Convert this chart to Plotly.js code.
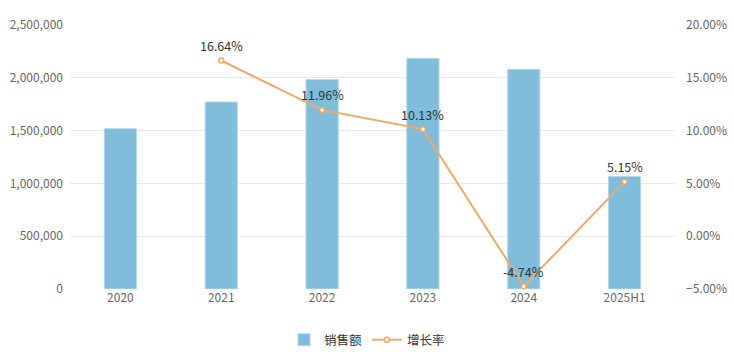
<!DOCTYPE html>
<html><head><meta charset="utf-8">
<script src="https://cdn.plot.ly/plotly-3.0.1.min.js"></script>
<style>html,body{margin:0;padding:0;background:#fff;}#chart{width:734px;height:358px;}</style>
</head><body><div id="chart"></div>
<script>
const categories = ['2020','2021','2022','2023','2024','2025H1'];
const sales = [1518000, 1771000, 1983000, 2184000, 2080000, 1065000];
const growth = [null, 16.64, 11.96, 10.13, -4.74, 5.15];
const growthLabels = ['', '16.64%', '11.96%', '10.13%', '-4.74%', '5.15%'];

const font = 'Noto Sans CJK SC, Open Sans, sans-serif';
const traces = [
  {type:'bar', name:'销售额', x:categories, y:sales, width:0.32,
   marker:{color:'#7FBDDB', line:{color:'#B5DAEC', width:1}}, hoverinfo:'skip'},
  {type:'scatter', mode:'lines+markers', name:'增长率', x:categories, y:growth, yaxis:'y2',
   line:{color:'#F0A96A', width:2}, connectgaps:false,
   marker:{symbol:'circle', size:5, color:'#fff', line:{color:'#F0A96A', width:1.5}}, cliponaxis:false}
];
// category axis: annotation x given as category index
const annotations = categories.map((c, i) => growth[i] === null ? null : ({
  x:i, y:growth[i], xref:'x', yref:'y2', text:growthLabels[i], showarrow:false,
  yshift:15, yanchor:'middle', xanchor:'center', font:{size:12.5, color:'#333', family:font}
})).filter(a => a);
const layout = {
  width:734, height:358, margin:{l:70, r:59, t:25, b:69, autoexpand:false},
  paper_bgcolor:'#fff', plot_bgcolor:'#fff',
  font:{family:font, size:12, color:'#666'},
  showlegend:true,
  legend:{orientation:'h', x:0.5, xanchor:'center', xref:'container', y:0.05, yanchor:'middle', yref:'container', font:{size:12.5, color:'#333'}, itemwidth:30},
  bargap:0.68,
  annotations:annotations,
  xaxis:{type:'category', categoryarray:categories, range:[-0.5, 5.5], showgrid:false, zeroline:false, showline:false, ticks:'', tickfont:{color:'#666'}, automargin:false},
  yaxis:{range:[0,2500000], dtick:500000, tickformat:',d', showgrid:true, gridcolor:'#E8E8E8', zeroline:false, showline:false, ticks:'', ticklabelstandoff:6, automargin:false},
  yaxis2:{overlaying:'y', side:'right', range:[-5,20], dtick:5, tickformat:'.2f', ticksuffix:'%', showgrid:false, zeroline:false, showline:false, ticks:'', ticklabelstandoff:10, automargin:false}
};
Plotly.newPlot('chart', traces, layout, {displayModeBar:false, staticPlot:true});
</script></body></html>
